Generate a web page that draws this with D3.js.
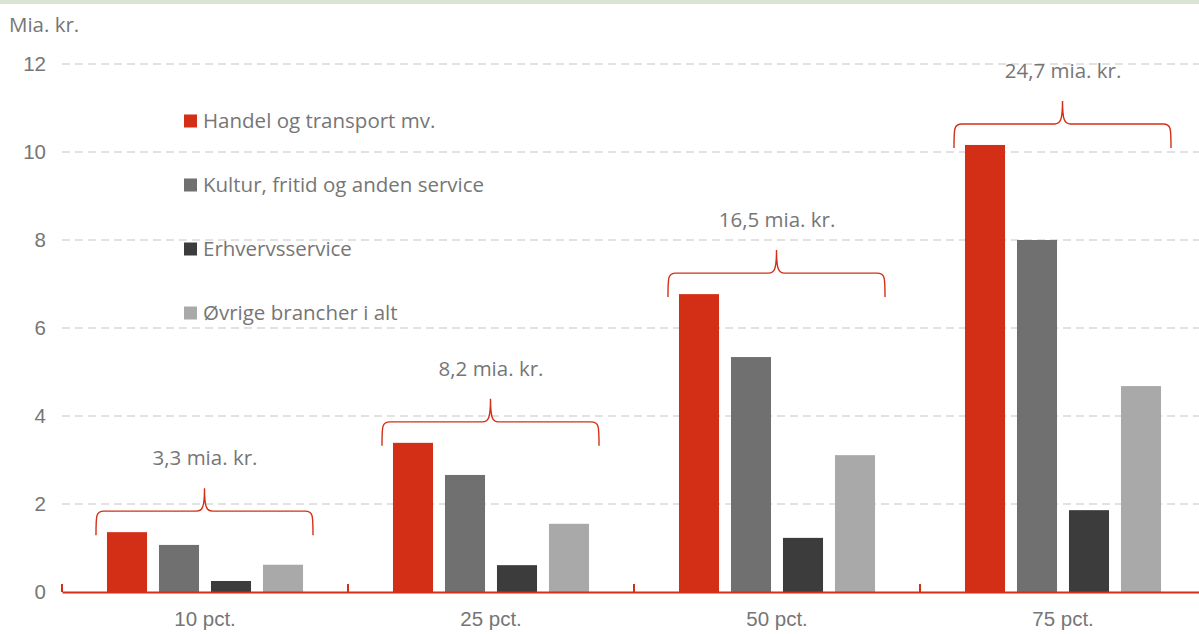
<!DOCTYPE html>
<html>
<head>
<meta charset="utf-8">
<script src="https://cdn.jsdelivr.net/npm/d3@7"></script>
<style>
  body { margin: 0; background: #fff; }
  svg { display: block; font-family: "Open Sans", sans-serif; }
</style>
</head>
<body>
<div id="chart"></div>
<script>
// categories and series
var categories = ["10 pct.", "25 pct.", "50 pct.", "75 pct."];
var seriesNames = ["Handel og transport mv.", "Kultur, fritid og anden service", "Erhvervsservice", "Øvrige brancher i alt"];
var handel = [1.36, 3.39, 6.77, 10.16];
var kultur = [1.07, 2.66, 5.34, 8.0];
var erhverv = [0.25, 0.61, 1.23, 1.86];
var oevrige = [0.62, 1.55, 3.11, 4.68];
var totals = [3.3, 8.2, 16.5, 24.7];
var yTicks = [0, 2, 4, 6, 8, 10, 12];
var colors = ["#d32f17", "#707070", "#3c3c3c", "#a9a9a9"];

var width = 1199, height = 634;
var margin = {left: 62, top: 64, bottom: 42};
var textColor = "#767676";
var fontSize = "20.5px";

var svg = d3.select("#chart").append("svg")
  .attr("width", width).attr("height", height);

// thin strip along the top edge
svg.append("rect").attr("x", 0).attr("y", 0).attr("width", width).attr("height", 4).attr("fill", "#d9e5d2");

var x = d3.scaleBand().domain(categories).range([margin.left, margin.left + 286 * 4]);
var inner = d3.scaleBand().domain(d3.range(4)).range([0, x.bandwidth()]).paddingInner(0.23).paddingOuter(0.865);
var y = d3.scaleLinear().domain([0, 12]).range([height - margin.bottom, margin.top]);

// dashed gridlines
svg.append("g").selectAll("line")
  .data(yTicks.filter(function (d) { return d > 0; }))
  .enter().append("line")
  .attr("x1", margin.left).attr("x2", width)
  .attr("y1", function (d) { return y(d); }).attr("y2", function (d) { return y(d); })
  .attr("stroke", "#d9d9d9").attr("stroke-width", 1.3).attr("stroke-dasharray", "8,5");

// y axis labels
var yAxis = d3.axisLeft(y).tickValues(yTicks).tickSize(0).tickPadding(16);
var yg = svg.append("g").attr("transform", "translate(" + margin.left + ",0)").call(yAxis);
yg.select(".domain").remove();
yg.selectAll("text").attr("fill", textColor).style("font-size", fontSize).attr("font-family", null);

svg.append("text").attr("x", 9).attr("y", 32).attr("fill", textColor)
  .style("font-size", fontSize).text("Mia. kr.");

// bars
var series = [handel, kultur, erhverv, oevrige];
var groups = svg.append("g").selectAll("g")
  .data(categories).enter().append("g")
  .attr("transform", function (d) { return "translate(" + x(d) + ",0)"; });

groups.selectAll("rect")
  .data(function (d, ci) { return series.map(function (s, si) { return {si: si, v: s[ci]}; }); })
  .enter().append("rect")
  .attr("x", function (d) { return inner(d.si); })
  .attr("width", inner.bandwidth())
  .attr("y", function (d) { return y(d.v); })
  .attr("height", function (d) { return y(0) - y(d.v); })
  .attr("fill", function (d) { return colors[d.si]; });

// x axis (red line with boundary ticks)
var xAxis = d3.axisBottom(x).tickSize(0).tickPadding(19);
var xg = svg.append("g").attr("transform", "translate(0," + y(0) + ")").call(xAxis);
xg.select(".domain").attr("stroke", "#d32f17").attr("stroke-width", 2);
xg.selectAll("text").attr("fill", textColor).style("font-size", fontSize).attr("font-family", null);
xg.selectAll(".sep").data(categories.concat([null])).enter().append("line")
  .attr("class", "sep")
  .attr("x1", function (d, i) { return margin.left + i * x.bandwidth(); })
  .attr("x2", function (d, i) { return margin.left + i * x.bandwidth(); })
  .attr("y1", -8).attr("y2", 0)
  .attr("stroke", "#d32f17").attr("stroke-width", 2);

// curly braces with totals
function bracePath(x0, x1, yb) {
  var xm = (x0 + x1) / 2, yh = yb - 24, yp = yb - 47, r = 8;
  return "M" + x0 + "," + yb +
    " C" + x0 + "," + (yh + 4) + " " + x0 + "," + yh + " " + (x0 + r) + "," + yh +
    " L" + (xm - 8) + "," + yh +
    " C" + (xm - 2) + "," + yh + " " + xm + "," + (yh - 4) + " " + xm + "," + yp +
    " C" + xm + "," + (yh - 4) + " " + (xm + 2) + "," + yh + " " + (xm + 8) + "," + yh +
    " L" + (x1 - r) + "," + yh +
    " C" + x1 + "," + yh + " " + x1 + "," + (yh + 4) + " " + x1 + "," + yb;
}

var fmt = function (v) { return d3.format(".1f")(v).replace(".", ",") + " mia. kr."; };

groups.append("path")
  .attr("d", function (d, i) {
    var x0 = inner(0) - 11, x1 = inner(3) + inner.bandwidth() + 10;
    return bracePath(x0, x1, y(handel[i]) + 3);
  })
  .attr("fill", "none").attr("stroke", "#d32f17").attr("stroke-width", 1.4);

groups.append("text")
  .attr("x", x.bandwidth() / 2)
  .attr("y", function (d, i) { return y(handel[i]) + 3 - 47 - 23; })
  .attr("text-anchor", "middle").attr("fill", textColor).style("font-size", fontSize)
  .text(function (d, i) { return fmt(totals[i]); });

// legend
var legend = svg.append("g").selectAll("g")
  .data(seriesNames).enter().append("g")
  .attr("transform", function (d, i) { return "translate(184," + (121 + i * 64) + ")"; });
legend.append("rect").attr("x", 0).attr("y", -6.5).attr("width", 13).attr("height", 13)
  .attr("fill", function (d, i) { return colors[i]; });
legend.append("text").attr("x", 19).attr("y", 0).attr("dy", "0.35em")
  .attr("fill", textColor).style("font-size", fontSize).text(function (d) { return d; });
</script>
</body>
</html>
